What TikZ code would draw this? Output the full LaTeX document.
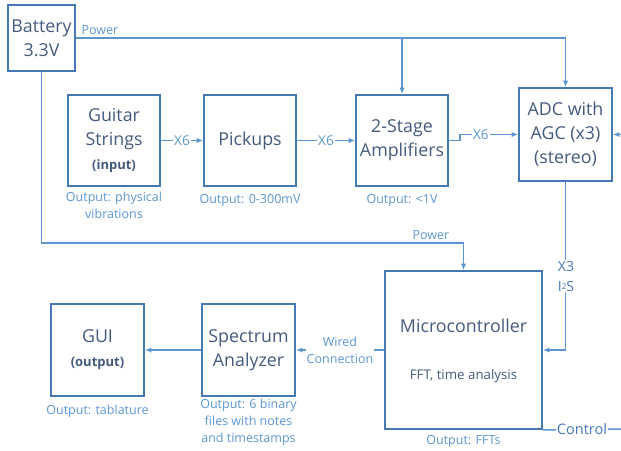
\documentclass[tikz,border=0pt]{standalone}
\usepackage{fontspec}
\setmainfont{Open Sans}
\usetikzlibrary{arrows.meta}
\definecolor{boxc}{RGB}{70,120,180}
\definecolor{linec}{RGB}{91,150,210}
\definecolor{txtc}{RGB}{68,90,125}
\definecolor{lblc}{RGB}{91,150,210}
\newcommand\myinsub{\fontsize{13}{15}\selectfont\bfseries}
\tikzset{
  blk/.style={draw=boxc, line width=1.9pt, text=txtc, align=center, inner sep=0pt,
    font=\fontsize{17.8}{24}\selectfont},
  conn/.style={draw=linec, line width=1.5pt},
  arr/.style={conn, -{Latex[length=6.5pt,width=5.5pt]}},
  lbl/.style={text=lblc, align=center, inner sep=1pt, font=\fontsize{12.5}{17}\selectfont},
  onl/.style={lbl, fill=white},
}
\begin{document}
\begin{tikzpicture}[x=1pt,y=-1pt]
\useasboundingbox (0,0) rectangle (621,450);
% boxes
\node[blk, minimum width=67pt, minimum height=66pt] (bat) at (41.5,38) {Battery\\3.3V};
\node[blk, minimum width=92pt, minimum height=91pt] (gs) at (114,140.5) {Guitar\\Strings\\{\myinsub (input)}};
\node[blk, minimum width=92pt, minimum height=91pt] (pk) at (250,140.5) {Pickups};
\node[blk, minimum width=92pt, minimum height=91pt] (amp) at (402,140.5) {2-Stage\\Amplifiers};
\node[blk, minimum width=93pt, minimum height=93pt] (adc) at (565.5,134.5) {ADC with\\AGC (x3)\\(stereo)};
\node[blk, minimum width=157pt, minimum height=158pt] (mc) at (463.5,350) {};
\node[text=txtc, font=\fontsize{17.8}{24}\selectfont] (mct) at (463.5,326) {Microcontroller};
\node[text=txtc, font=\fontsize{13.3}{16}\selectfont] (mcs) at (463.5,376) {FFT, time analysis};
\node[blk, minimum width=93pt, minimum height=92pt] (gui) at (97.5,350) {GUI\\{\myinsub (output)}};
\node[blk, minimum width=93pt, minimum height=92pt] (sa) at (248.5,350) {Spectrum\\Analyzer};
% output labels
\node[lbl] (o1) at (114,205) {Output: physical\\vibrations};
\node[lbl] (o2) at (250,200) {Output: 0-300mV};
\node[lbl] (o3) at (402,200) {Output: <1V};
\node[lbl] (o4) at (463.5,441) {Output: FFTs};
\node[lbl] (o5) at (97.5,411) {Output: tablature};
\node[lbl] (o6) at (248.5,422) {Output: 6 binary\\files with notes\\and timestamps};
% power
\draw[arr] (bat.east) -| (adc.north);
\draw[arr] (amp.north |- bat.east) -- (amp.north);
\node[lbl] (p1) at (100,30) {Power};
\coordinate (pw) at (bat.south |- 0,243);
\draw[arr] (bat.south) -- (pw) -| (mc.north);
\node[lbl] (p2) at (431,235) {Power};
% signal chain
\draw[arr] (gs) -- node[onl, font=\fontsize{13.5}{16}\selectfont]{X6} (pk);
\draw[arr] (pk) -- node[onl, font=\fontsize{13.5}{16}\selectfont]{X6} (amp);
\draw[arr] (amp.east) -- ++(11,0) |- node[onl, pos=0.68, font=\fontsize{13.5}{16}\selectfont]{X6} (adc.west);
\coordinate (rin) at (621,134.5);
\draw[arr] (rin) -- (adc.east);
\draw[arr] (adc.south) |- (mc.east);
\node[onl, font=\fontsize{14}{20}\selectfont, text=boxc] (x3) at (566,276) {X3\\I\raisebox{0.2ex}{\fontsize{8}{9}\selectfont 2}S};
\draw[arr] (mc.west) -- node[onl]{Wired\\Connection} (sa.east);
\draw[arr] (sa.west) -- (gui.east);
\coordinate (cend) at (621,429);
\draw[conn] (mc.south east) -- node[onl, font=\fontsize{14.5}{17}\selectfont, text=boxc]{Control} (cend);
\end{tikzpicture}
\end{document}
